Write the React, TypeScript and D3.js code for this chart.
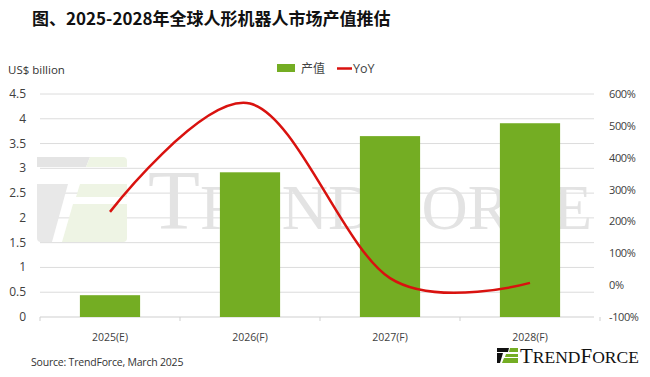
import React from "react";
import * as d3 from "d3";

const categories = ["2025(E)", "2026(F)", "2027(F)", "2028(F)"];
const values = [0.44, 2.92, 3.65, 3.91];
const yoy = [230, 570, 22, 7];
const leftTicks = [0, 0.5, 1, 1.5, 2, 2.5, 3, 3.5, 4, 4.5];
const rightTicks = [-100, 0, 100, 200, 300, 400, 500, 600];

const W = 650, H = 377;
const M = { left: 40, right: 600, top: 94, bottom: 317 };
const FONT = "'Open Sans', 'Noto Sans', sans-serif";

export default function App() {
  const x = d3.scaleBand<string>().domain(categories).range([M.left, M.right]).paddingInner(0.57).paddingOuter(0.285);
  const xc = d3.scalePoint<string>().domain(categories).range([M.left, M.right]).padding(0.5);
  const yL = d3.scaleLinear().domain([0, 4.5]).range([M.bottom, M.top]);
  const yR = d3.scaleLinear().domain([-100, 600]).range([M.bottom, M.top]);
  const line = d3
    .line<number>()
    .x((_, i) => xc(categories[i]) as number)
    .y((d) => yR(d))
    .curve(d3.curveCardinal.tension(0));
  const boundaries = d3.range(categories.length + 1).map((i) => M.left + i * x.step());

  return (
    <div style={{ position: "absolute", left: 0, top: 0 }}>
      <svg width={W} height={H} style={{ display: "block", background: "#fff" }}>
        <rect width={W} height={H} fill="#fff" />
        {/* title */}
        <text x={32} y={25} fontFamily="'Noto Sans CJK SC', sans-serif" fontWeight={700} fontSize={17} fill="#111">
          图、2025-2028年全球人形机器人市场产值推估
        </text>
        <text x={8} y={74} fontFamily={FONT} fontSize={11.5} fill="#333">US$ billion</text>

        {/* legend */}
        <rect x={277} y={64} width={18} height={8} fill="#74ad23" />
        <text x={301} y={73} fontFamily="'Noto Sans CJK SC', sans-serif" fontSize={12} fill="#444">产值</text>
        <line x1={337} x2={352} y1={68.5} y2={68.5} stroke="#d9120f" strokeWidth={2.5} />
        <text x={353} y={73} fontFamily={FONT} fontSize={12.5} fill="#444">YoY</text>

        {/* gridlines */}
        {leftTicks.map((t) => (
          <line key={t} x1={M.left} x2={M.right - 6} y1={yL(t)} y2={yL(t)} stroke={t === 0 ? "#cfcfcf" : "#dcdcdc"} strokeWidth={1} />
        ))}
        {boundaries.map((b, i) => (
          <line key={i} x1={b} x2={b} y1={M.bottom} y2={M.bottom + 4} stroke="#cfcfcf" />
        ))}

        {/* watermark logo */}
        <g>
          <path d="M37,157 L90,157 L86,167 L37,167 Z" fill="#e4e4e4" />
          <path d="M90,157 L123,157 Q127,157 127,161 L127,167 L86,167 Z" fill="#eef4e4" />
          <path d="M37,184 L68,184 L52,242 L41,242 Q37,242 37,238 Z" fill="#e8e8e8" />
          <path d="M80,184 L127,184 L127,197 L76,197 Z" fill="#eef4e4" />
          <path d="M73,204 L127,204 L127,238 Q127,242 123,242 L62,242 Z" fill="#eef4e4" />
          <text x={148} y={229} fontFamily="'Liberation Serif', 'DejaVu Serif', serif" fill="#e3e3e3">
            <tspan fontSize={85}>T</tspan>
            <tspan fontSize={64}>REND</tspan>
            <tspan fontSize={85}>F</tspan>
            <tspan fontSize={64}>ORCE</tspan>
          </text>
        </g>

        {/* bars */}
        {values.map((v, i) => (
          <rect key={categories[i]} x={x(categories[i])} y={yL(v)} width={x.bandwidth()} height={yL(0) - yL(v)} fill="#74ad23" />
        ))}

        {/* YoY line */}
        <path d={line(yoy) || ""} fill="none" stroke="#d9120f" strokeWidth={2.5} />

        {/* left axis labels */}
        {leftTicks.map((t) => (
          <text key={t} x={26} y={yL(t) + 4} textAnchor="end" fontFamily={FONT} fontSize={12} fill="#404040">
            {String(t)}
          </text>
        ))}
        {/* right axis labels */}
        {rightTicks.map((t) => (
          <text key={t} x={609} y={yR(t) + 4} fontFamily={FONT} fontSize={11} letterSpacing={-0.4} fill="#404040">
            {`${t}%`}
          </text>
        ))}
        {/* category labels */}
        {categories.map((c) => (
          <text key={c} x={xc(c)} y={341} textAnchor="middle" fontFamily={FONT} fontSize={10.5} fill="#404040">
            {c}
          </text>
        ))}

        <text x={31} y={366} fontFamily={FONT} fontSize={10.5} letterSpacing={-0.2} fill="#333">
          Source: TrendForce, March 2025
        </text>

        {/* bottom-right logo */}
        <path d="M497,348 L509,348 L508,352 L497,352 Z" fill="#111" />
        <path d="M497,353 L503,353 L500,363 L497,363 Z" fill="#111" />
        <path d="M510,348 L518,348 L518,352 L509,352 Z" fill="#74ad23" />
        <path d="M506,354 L518,354 L518,357 L505,357 Z" fill="#74ad23" />
        <path d="M504,358 L518,358 L518,363 L502,363 Z" fill="#74ad23" />
        <text x={520} y={363} fontFamily="'Liberation Serif', 'DejaVu Serif', serif" fill="#111">
          <tspan fontSize={21}>T</tspan>
          <tspan fontSize={17.5}>REND</tspan>
          <tspan fontSize={21}>F</tspan>
          <tspan fontSize={17.5}>ORCE</tspan>
        </text>
      </svg>
    </div>
  );
}
